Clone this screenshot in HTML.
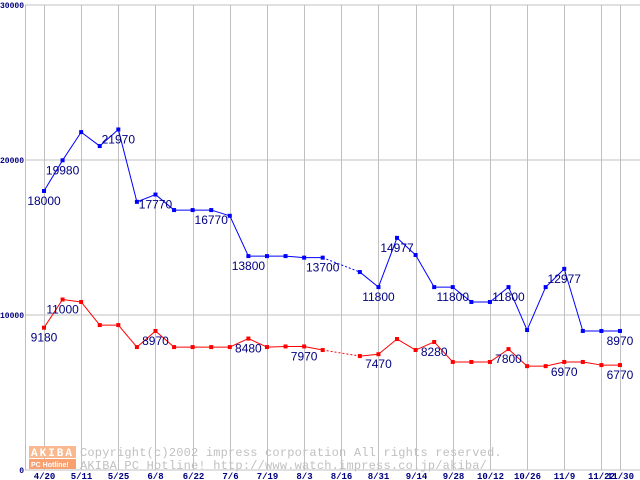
<!DOCTYPE html>
<html><head><meta charset="utf-8"><style>
html,body{margin:0;padding:0;background:#fff;width:640px;height:480px;overflow:hidden}
svg{display:block}
</style></head><body>
<svg id="chart" width="640" height="480" xmlns="http://www.w3.org/2000/svg">
<g id="grid"></g>
<g id="wm">
  <rect x="29" y="446" width="47" height="12" fill="#f8b890"/>
  <text x="31" y="456" font-family="Liberation Mono, monospace" font-size="11" font-weight="bold" fill="#fff" letter-spacing="2">AKIBA</text>
  <rect x="29" y="459" width="47" height="10" fill="#f8a070"/>
  <text x="31" y="467" font-family="Liberation Sans, sans-serif" font-size="7" font-weight="bold" fill="#fff">PC Hotline!</text>
  <text x="80" y="456" font-family="Liberation Mono, monospace" font-size="12" letter-spacing="0.2" fill="#c0c0c0">Copyright(c)2002 impress corporation All rights reserved.</text>
  <text x="80" y="469" font-family="Liberation Mono, monospace" font-size="12" letter-spacing="0.2" fill="#c0c0c0">AKIBA PC Hotline!  http://www.watch.impress.co.jp/akiba/</text>
</g>
<g id="series"></g>
</svg>
<script>
const xLabels = ["4/20","5/11","5/25","6/8","6/22","7/6","7/19","8/3","8/16","8/31","9/14","9/28","10/12","10/26","11/9","11/22","11/30"];
const xLabelIdx = [0,2,4,6,8,10,12,14,16,18,20,22,24,26,28,30,31];
const yTicks = [0,10000,20000,30000];
const blueVals = [18000,19980,21800,20900,21970,17300,17770,16770,16770,16770,16400,13800,13800,13800,13700,13700,null,12770,11800,14977,13870,11800,11800,10840,10840,11800,9030,11800,12977,8970,8970,8970];
const redVals = [9180,11000,10840,9350,9350,7930,8970,7930,7930,7930,7930,8480,7930,7970,7970,7740,null,7350,7470,8450,7740,8260,6970,6970,6970,7800,6700,6700,6970,6970,6770,6770];
const blueLabelIdx = [0,1,4,6,9,11,15,18,19,22,25,28,31];
const blueLabelText = ["18000","19980","21970","17770","16770","13800","13700","11800","14977","11800","11800","12977","8970"];
const redLabelIdx = [0,1,6,11,14,18,21,25,28,31];
const redLabelText = ["9180","11000","8970","8480","7970","7470","8280","7800","6970","6770"];

const NS="http://www.w3.org/2000/svg";
const X=i=>44+i*18.58;
const Y=v=>470-v*0.0155;
function mk(tag,attrs,parent){const e=document.createElementNS(NS,tag);for(const k in attrs)e.setAttribute(k,attrs[k]);parent.appendChild(e);return e;}
const grid=document.getElementById('grid'), ser=document.getElementById('series');
yTicks.forEach(t=>{
  const l=mk('line',{x1:25,x2:640,y1:Y(t),y2:Y(t),stroke:'#c0c0c0','stroke-width':1},grid);
  
  
  const tx=mk('text',{x:24,y:Y(t)+3,'text-anchor':'end','font-family':'Liberation Mono, monospace','font-size':8,'font-weight':'bold',fill:'#000080'},grid);
  tx.textContent=t;
  
  
});
mk('line',{x1:25.5,x2:25.5,y1:5,y2:470,stroke:'#c0c0c0'},grid);
xLabelIdx.forEach((idx,k)=>{
  const x=Math.round(X(idx))+0.5;
  const l=mk('line',{x1:x,x2:x,y1:5,y2:470,stroke:'#c0c0c0'},grid);
  
  
  const tx=mk('text',{x:x,y:479,'text-anchor':'middle','font-family':'Liberation Mono, monospace','font-size':9,'font-weight':'bold',fill:'#000080'},grid);
  tx.textContent=xLabels[k];
  
  
});
function drawSeries(vals,color,name,lIdx,lText){
  const g=mk('g',{},ser);
  
  
  for(let i=0;i<vals.length-1;i++){
    let a=i,b=i+1;
    if(vals[a]==null) continue;
    let dashed=false;
    if(vals[b]==null){b=i+2;dashed=true;}
    const l=mk('line',{x1:X(a),y1:Y(vals[a]),x2:X(b),y2:Y(vals[b]),stroke:color,'stroke-width':1},g);
    if(dashed)l.setAttribute('stroke-dasharray','2,2');
    
    
  }
  vals.forEach((v,i)=>{
    if(v==null)return;
    const r=mk('rect',{x:X(i)-2,y:Y(v)-2,width:4,height:4,fill:color},g);
    
    
  });
  lIdx.forEach((i,k)=>{
    const t=mk('text',{x:X(i),y:Y(vals[i])+14,'text-anchor':'middle','font-family':'Liberation Sans, sans-serif','font-size':12,fill:'#000080'},g);
    t.textContent=lText[k];
    
    
  });
}
drawSeries(blueVals,'#0000ff','blue-series',blueLabelIdx,blueLabelText);
drawSeries(redVals,'#ff0000','red-series',redLabelIdx,redLabelText);
</script>
</body></html>
